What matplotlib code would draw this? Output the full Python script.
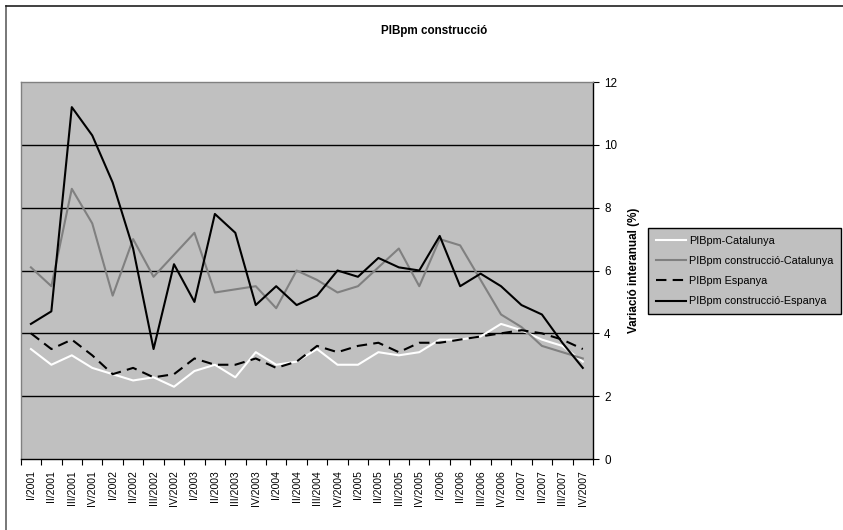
import matplotlib
matplotlib.use("Agg")
import matplotlib.pyplot as plt
from matplotlib.lines import Line2D
import numpy as np

plt.rcParams['font.family'] = ['Liberation Sans', 'DejaVu Sans']

quarters = ["I/2001", "II/2001", "III/2001", "IV/2001",
            "I/2002", "II/2002", "III/2002", "IV/2002",
            "I/2003", "II/2003", "III/2003", "IV/2003",
            "I/2004", "II/2004", "III/2004", "IV/2004",
            "I/2005", "II/2005", "III/2005", "IV/2005",
            "I/2006", "II/2006", "III/2006", "IV/2006",
            "I/2007", "II/2007", "III/2007", "IV/2007"]

pib_cat = [3.5, 3.0, 3.3, 2.9, 2.7, 2.5, 2.6, 2.3, 2.8, 3.0, 2.6, 3.4, 3.0, 3.1,
           3.5, 3.0, 3.0, 3.4, 3.3, 3.4, 3.8, 3.8, 3.9, 4.3, 4.1, 3.8, 3.6, 3.1]
constr_cat = [6.1, 5.5, 8.6, 7.5, 5.2, 7.0, 5.8, 6.5, 7.2, 5.3, 5.4, 5.5, 4.8, 6.0,
              5.7, 5.3, 5.5, 6.1, 6.7, 5.5, 7.0, 6.8, 5.7, 4.6, 4.2, 3.6, 3.4, 3.2]
pib_esp = [4.0, 3.5, 3.8, 3.3, 2.7, 2.9, 2.6, 2.7, 3.2, 3.0, 3.0, 3.2, 2.9, 3.1,
           3.6, 3.4, 3.6, 3.7, 3.4, 3.7, 3.7, 3.8, 3.9, 4.0, 4.1, 4.0, 3.8, 3.5]
constr_esp = [4.3, 4.7, 11.2, 10.3, 8.8, 6.7, 3.5, 6.2, 5.0, 7.8, 7.2, 4.9, 5.5, 4.9,
              5.2, 6.0, 5.8, 6.4, 6.1, 6.0, 7.1, 5.5, 5.9, 5.5, 4.9, 4.6, 3.7, 2.9]

series_names = ["PIBpm-Catalunya", "PIBpm construcció-Catalunya",
                "PIBpm Espanya", "PIBpm construcció-Espanya"]
y_ticks = [0, 2, 4, 6, 8, 10, 12]

W, H = 843, 530
fig = plt.figure(figsize=(W / 100, H / 100), dpi=100)
fig.patch.set_facecolor('white')

left, right, top, bottom = 20.7, 593, 82, 459
ax = fig.add_axes([left / W, 1 - bottom / H, (right - left) / W, (bottom - top) / H])
ax.set_facecolor('#C0C0C0')

x = np.arange(len(quarters))
ax.plot(x, pib_cat, color='white', lw=1.5, label=series_names[0], zorder=3)
ax.plot(x, constr_cat, color='#808080', lw=1.5, label=series_names[1], zorder=3)
ax.plot(x, pib_esp, color='black', lw=1.5, dashes=(5, 3), label=series_names[2], zorder=4)
ax.plot(x, constr_esp, color='black', lw=1.5, label=series_names[3], zorder=5)

ax.set_xlim(-0.5, len(quarters) - 0.5)
ax.set_ylim(0, 12)
for v in y_ticks[1:-1]:
    ax.axhline(v, color='black', lw=1.0, zorder=1)

# x axis: labels at centers, tick marks at boundaries
ax.set_xticks(x)
ax.set_xticklabels(quarters, rotation=90, fontsize=7.5, va='top', ha='center')
ax.tick_params(axis='x', which='major', length=0, pad=8)
ax.set_xticks(np.arange(-0.5, len(quarters)), minor=True)
ax.tick_params(axis='x', which='minor', length=4, direction='out', width=0.8, color='black')

# y axis on the right
ax.yaxis.tick_right()
ax.yaxis.set_label_position('right')
ax.set_yticks(y_ticks)
ax.set_yticklabels([str(v) for v in y_ticks], fontsize=8.4)
ax.tick_params(axis='y', length=4, direction='out', width=0.8, pad=4, color='black')
ax.set_ylabel("Variació interanual (%)", fontsize=8.4, fontweight='bold', labelpad=8, rotation=90)

for s in ['left', 'top']:
    ax.spines[s].set_color('#808080')
    ax.spines[s].set_linewidth(1.0)
for s in ['right', 'bottom']:
    ax.spines[s].set_color('black')
    ax.spines[s].set_linewidth(1.0)

fig.text(434 / W, 1 - 31 / H, "PIBpm construcció", fontsize=8.4, fontweight='bold',
         ha='center', va='center')

# outer chart border (cut off at right and bottom)
fig.add_artist(Line2D([6 / W, 6 / W], [1 - 6 / H, 0], transform=fig.transFigure,
                      color='#606060', lw=1.2))
fig.add_artist(Line2D([6 / W, 1], [1 - 6 / H, 1 - 6 / H], transform=fig.transFigure,
                      color='#202020', lw=1.2))

leg = fig.legend(loc='upper left', bbox_to_anchor=(648 / W, 1 - 228 / H),
                 bbox_transform=fig.transFigure, borderaxespad=0,
                 fontsize=7.8, frameon=True, fancybox=False, shadow=False,
                 handlelength=2.8, handletextpad=0.3, labelspacing=0.95,
                 borderpad=0.7)
leg.get_frame().set_facecolor('#C0C0C0')
leg.get_frame().set_edgecolor('black')
leg.get_frame().set_linewidth(1.0)
leg.get_frame().set_alpha(None)

fig.savefig('out.png', dpi=100, facecolor='white')
